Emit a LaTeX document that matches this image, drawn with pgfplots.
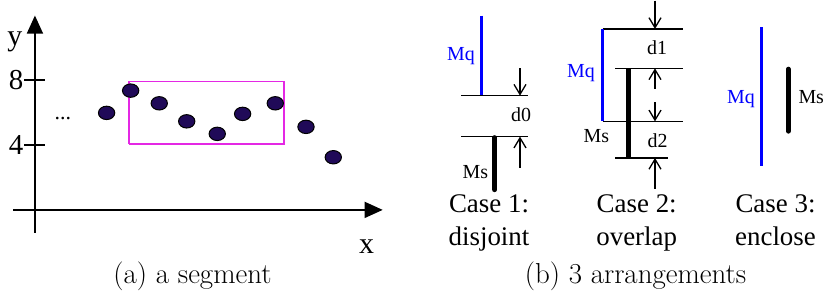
\documentclass[border=0pt]{standalone}
\usepackage{pgfplots}
\pgfplotsset{compat=1.18}
\usepackage{fontspec}
\newfontfamily\tms{Liberation Serif}
\usetikzlibrary{arrows.meta}
\definecolor{dotfill}{RGB}{32,10,88}
\definecolor{rectmag}{RGB}{228,40,228}
\tikzset{
  darr/.style={line width=1.3bp, -{Straight Barb[length=10bp,width=12bp]}},
  hl/.style={line width=1.5bp},
  lab/.style={font=\tms\fontsize{20}{22}\selectfont, inner sep=0pt},
  cse/.style={font=\tms\fontsize{27}{30}\selectfont, inner sep=0pt, anchor=base},
  capt/.style={font=\fontsize{29}{32}\selectfont, inner sep=0pt, anchor=base},
}
\begin{document}
\begin{tikzpicture}
% ---------- (a) a segment ----------
\begin{axis}[
  at={(13bp,62bp)}, anchor=south west,
  x=16.25bp, y=16.25bp,
  xmin=-1.35, xmax=21.4, ymin=-1.4, ymax=11.96,
  enlargelimits=false, clip=false,
  axis lines=middle,
  axis line style={line width=1.5bp, black},
  x axis line style={-{Triangle[length=18bp,width=16bp]}},
  y axis line style={-{Triangle[length=18bp,width=16bp]}},
  xtick=\empty, ytick={4,8},
  tick align=center, major tick length=21bp,
  tick style={line width=1.5bp, black},
  /pgf/number format/assume math mode=true,
  yticklabel style={font=\tms\fontsize{29}{30}\selectfont, inner sep=1bp},
]
\addplot[only marks, mark=*, mark size=6.7bp,
  mark options={xscale=1.22, fill=dotfill, draw=black, line width=1bp}]
  coordinates {(4.41,5.97) (5.89,7.34) (7.65,6.56) (9.34,5.45) (11.22,4.68)
               (12.78,5.91) (14.79,6.56) (16.68,5.11) (18.36,3.24)};
\addplot[rectmag, line width=1.8bp, mark=none]
  coordinates {(5.77,4.04) (15.31,4.04) (15.31,7.90) (5.77,7.90) (5.77,4.04)};
\node[font=\tms\fontsize{22}{24}\selectfont, anchor=base, inner sep=0pt] at (axis cs:1.72,5.56) {...};
\node[font=\tms\fontsize{30}{30}\selectfont, anchor=base, inner sep=0pt] at (axis cs:-1.23,10.09) {y};
\node[font=\tms\fontsize{30}{30}\selectfont, anchor=base, inner sep=0pt] at (axis cs:20.41,-2.71) {x};
\end{axis}
% ---------- (b) 3 arrangements (pixel coordinates) ----------
\begin{axis}[
  at={(0bp,0bp)}, anchor=south west,
  x=1bp, y=1bp, y dir=reverse,
  xmin=0, xmax=825, ymin=0, ymax=294,
  enlargelimits=false, clip=false, hide axis,
]
\addplot[draw=none, mark=none] coordinates {(0,0) (825,294)};
% Case 1
\addplot[blue, line width=3bp, mark=none] coordinates {(481,15) (481,95)};
\addplot[hl, mark=none] coordinates {(461,95) (528,95)};
\addplot[darr, mark=none] coordinates {(520,67.7) (520,95)};
\addplot[hl, mark=none] coordinates {(461,136) (528,136)};
\addplot[darr, mark=none] coordinates {(520,167) (520,136)};
\addplot[black, line width=5bp, line cap=round, mark=none] coordinates {(494.7,137) (494.7,189)};
% Case 2
\addplot[darr, mark=none] coordinates {(655,0) (655,28.3)};
\addplot[hl, mark=none] coordinates {(602.7,28.3) (682.7,28.3)};
\addplot[blue, line width=3bp, mark=none] coordinates {(602.7,28.3) (602.7,120.7)};
\addplot[hl, mark=none] coordinates {(615,67.7) (683.3,67.7)};
\addplot[darr, mark=none] coordinates {(655,88.3) (655,67.7)};
\addplot[darr, mark=none] coordinates {(655,101.7) (655,120.7)};
\addplot[hl, mark=none] coordinates {(602.7,120.7) (683.3,120.7)};
\addplot[black, line width=5bp, mark=none] coordinates {(628.3,67.7) (628.3,157.3)};
\addplot[hl, mark=none] coordinates {(615,157.3) (668.3,157.3)};
\addplot[darr, mark=none] coordinates {(655,188.3) (655,157.3)};
% Case 3
\addplot[blue, line width=3bp, mark=none] coordinates {(761.7,26.7) (761.7,165.7)};
\addplot[black, line width=5bp, line cap=round, mark=none] coordinates {(788.3,68.5) (788.3,130.5)};
% labels
\node[lab, text=blue, anchor=base east] at (axis cs:475,60) {Mq};
\node[lab, text=blue, anchor=base east] at (axis cs:595,76.7) {Mq};
\node[lab, text=blue, anchor=base east] at (axis cs:755,103.3) {Mq};
\node[lab, anchor=base east] at (axis cs:488.3,178.3) {Ms};
\node[lab, anchor=base east] at (axis cs:609.3,141.7) {Ms};
\node[lab, anchor=base west] at (axis cs:798.3,103.3) {Ms};
\node[lab, anchor=base] at (axis cs:521,120.7) {d0};
\node[lab, anchor=base] at (axis cs:657,54) {d1};
\node[lab, anchor=base] at (axis cs:657.5,146.7) {d2};
\node[cse] at (axis cs:489,211.7) {Case 1:};
\node[cse] at (axis cs:489,245) {disjoint};
\node[cse] at (axis cs:636.7,211.7) {Case 2:};
\node[cse] at (axis cs:636.7,245) {overlap};
\node[cse] at (axis cs:775.5,211.7) {Case 3:};
\node[cse] at (axis cs:775.5,245) {enclose};
\node[capt] at (axis cs:192.5,283.3) {(a) a segment};
\node[capt] at (axis cs:635.5,283.3) {(b) 3 arrangements};
\end{axis}
\end{tikzpicture}
\end{document}
